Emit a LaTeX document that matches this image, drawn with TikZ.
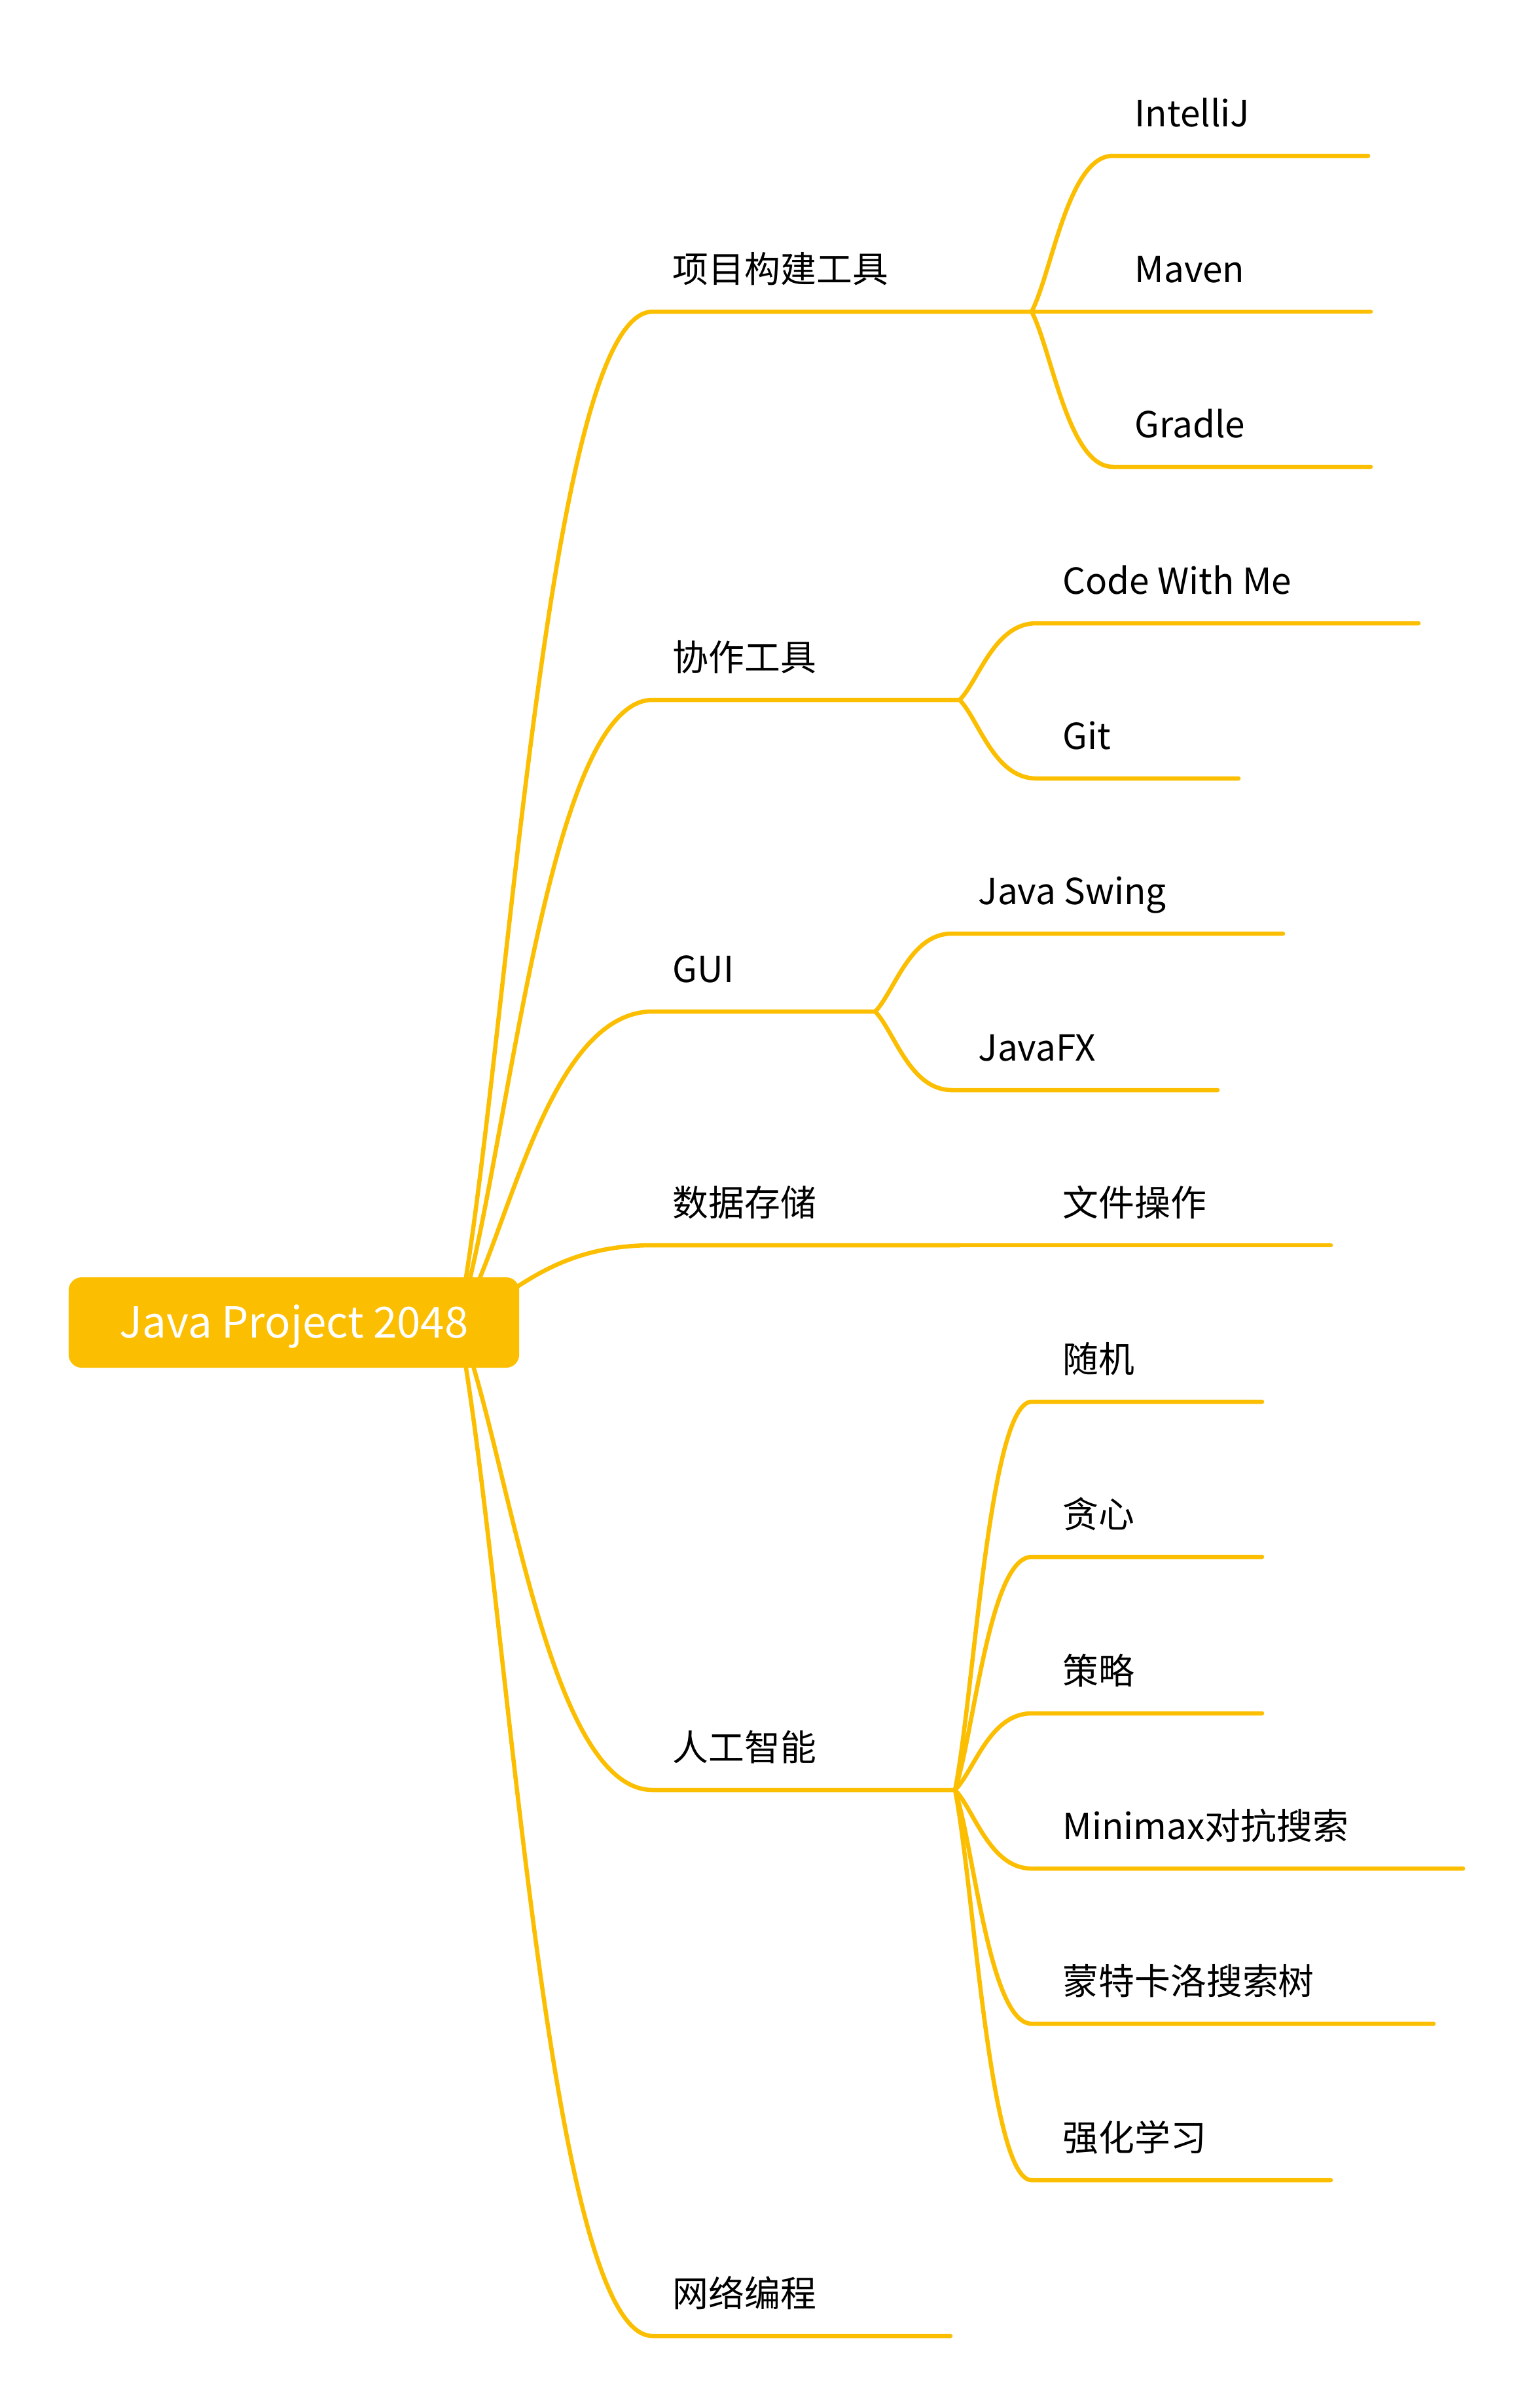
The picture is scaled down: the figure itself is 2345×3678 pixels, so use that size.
\documentclass[tikz,border=0pt]{standalone}
\usepackage{fontspec}
\setmainfont{Noto Sans CJK SC}
\usetikzlibrary{calc}
\definecolor{mc}{RGB}{251,190,0}
\tikzset{
  br/.style={line width=1.85pt, draw=mc, line cap=round},
  curve/.style={to path={let \p1=(\tikztostart), \p2=(\tikztotarget) in
     .. controls ({\x1+0.25*(\x2-\x1)},{\y1+0.25*(\y2-\y1)}) and ({\x1+0.45*(\x2-\x1)},{\y2}) .. (\tikztotarget)}},
  rootbox/.style={fill=mc, rounded corners=0.2cm, minimum width=6.88cm, minimum height=1.38cm,
     text=white, font=\fontsize{18.6}{22}\selectfont, inner sep=0pt, text height=13.2pt, text depth=0pt},
  lbl/.style={anchor=base west, inner sep=0pt, font=\fontsize{15.6}{19}\selectfont, text=black}
}
\begin{document}
\begin{tikzpicture}[x=0.01cm,y=-0.01cm]
\useasboundingbox (0,0) rectangle (2345,3678);
% start of level-1 connectors (hidden behind the root box)
\coordinate (r0) at (700,2020);
% level-1 underline coordinates
\coordinate (t1s) at (997,476);  \coordinate (t1e) at (1576,476);
\coordinate (t2s) at (997,1069); \coordinate (t2e) at (1466,1069);
\coordinate (t3s) at (997,1545); \coordinate (t3e) at (1337,1545);
\coordinate (t4s) at (997,1902); \coordinate (t4e) at (1466,1902);
\coordinate (t5s) at (997,2734); \coordinate (t5e) at (1459,2734);
\coordinate (t6s) at (997,3568); \coordinate (t6e) at (1452,3568);
% level-2
\coordinate (a1s) at (1700,238); \coordinate (a1e) at (2090,238);
\coordinate (a2s) at (1700,476); \coordinate (a2e) at (2094,476);
\coordinate (a3s) at (1700,713); \coordinate (a3e) at (2094,713);
\coordinate (b1s) at (1583,952);  \coordinate (b1e) at (2167,952);
\coordinate (b2s) at (1583,1189); \coordinate (b2e) at (1892,1189);
\coordinate (c1s) at (1454,1426); \coordinate (c1e) at (1960,1426);
\coordinate (c2s) at (1454,1665); \coordinate (c2e) at (1860,1665);
\coordinate (d1s) at (1583,1902); \coordinate (d1e) at (2033,1902);
\coordinate (e1s) at (1576,2141); \coordinate (e1e) at (1928,2141);
\coordinate (e2s) at (1576,2378); \coordinate (e2e) at (1928,2378);
\coordinate (e3s) at (1576,2617); \coordinate (e3e) at (1928,2617);
\coordinate (e4s) at (1576,2854); \coordinate (e4e) at (2235,2854);
\coordinate (e5s) at (1576,3091); \coordinate (e5e) at (2190,3091);
\coordinate (e6s) at (1576,3330); \coordinate (e6e) at (2033,3330);

% level-1 connectors
\foreach \t in {t1,t2,t3,t4,t5,t6}{
  \draw[br] (r0) to[curve] (\t s) -- (\t e);
}
% level-2 connectors
\foreach \c in {a1,a2,a3}{ \draw[br] (t1e) to[curve] (\c s) -- (\c e); }
\foreach \c in {b1,b2}{ \draw[br] (t2e) to[curve] (\c s) -- (\c e); }
\foreach \c in {c1,c2}{ \draw[br] (t3e) to[curve] (\c s) -- (\c e); }
\draw[br] (t4e) -- (d1s) -- (d1e);
\foreach \c in {e1,e2,e3,e4,e5,e6}{ \draw[br] (t5e) to[curve] (\c s) -- (\c e); }

% root
\node[rootbox] (root) at (449,2020) {Java Project 2048};

% labels
\node[lbl] (n1) at ($(t1s)+(30,-45)$) {项目构建工具};
\node[lbl] (n2) at ($(t2s)+(30,-45)$) {协作工具};
\node[lbl] (n3) at ($(t3s)+(30,-45)$) {GUI};
\node[lbl] (n4) at ($(t4s)+(30,-45)$) {数据存储};
\node[lbl] (n5) at ($(t5s)+(30,-45)$) {人工智能};
\node[lbl] (n6) at ($(t6s)+(30,-45)$) {网络编程};

\node[lbl] (m1) at ($(a1s)+(33,-45)$) {IntelliJ};
\node[lbl] (m2) at ($(a2s)+(33,-45)$) {Maven};
\node[lbl] (m3) at ($(a3s)+(33,-45)$) {Gradle};
\node[lbl] (m4) at ($(b1s)+(40,-45)$) {Code With Me};
\node[lbl] (m5) at ($(b2s)+(40,-45)$) {Git};
\node[lbl] (m6) at ($(c1s)+(40,-45)$) {Java Swing};
\node[lbl] (m7) at ($(c2s)+(40,-45)$) {JavaFX};
\node[lbl] (m8) at ($(d1s)+(40,-45)$) {文件操作};
\node[lbl] (m9) at ($(e1s)+(47,-45)$) {随机};
\node[lbl] (m10) at ($(e2s)+(47,-45)$) {贪心};
\node[lbl] (m11) at ($(e3s)+(47,-45)$) {策略};
\node[lbl] (m12) at ($(e4s)+(47,-45)$) {Minimax对抗搜索};
\node[lbl] (m13) at ($(e5s)+(47,-45)$) {蒙特卡洛搜索树};
\node[lbl] (m14) at ($(e6s)+(47,-45)$) {强化学习};
\end{tikzpicture}
\end{document}
